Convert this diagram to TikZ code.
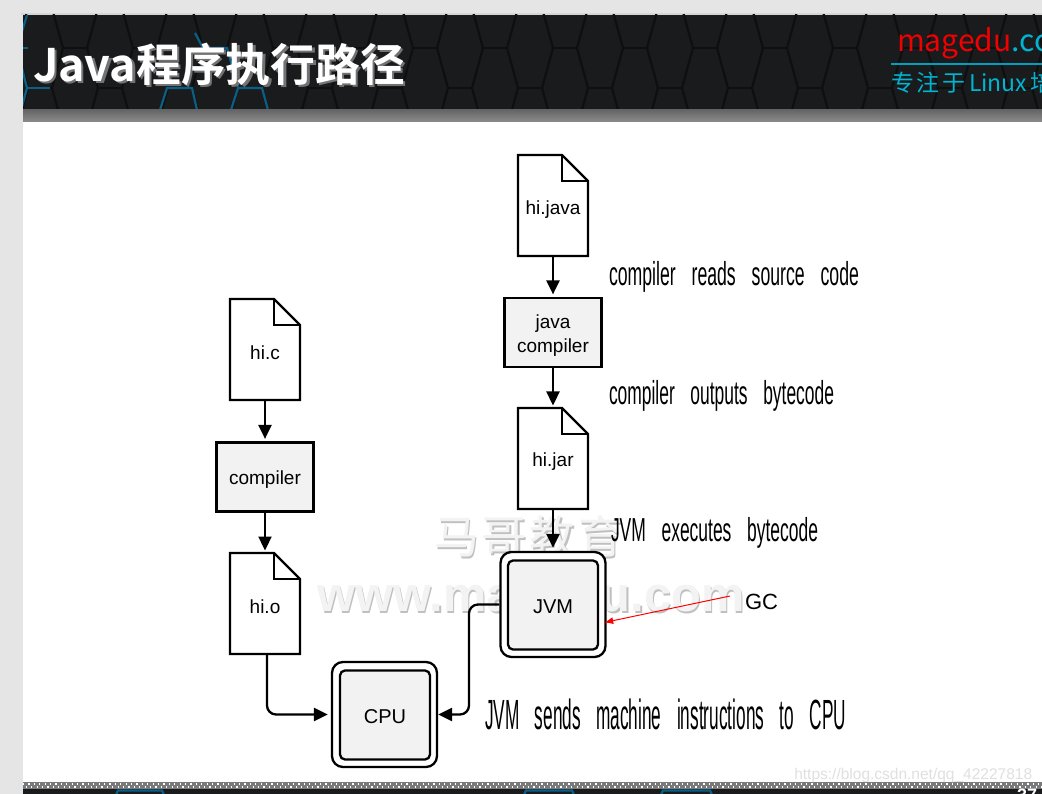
\documentclass[tikz,border=0pt]{standalone}
\usepackage{fontspec}
\usepackage{graphicx}
\setmainfont{Liberation Sans}
\newfontfamily\cjkb{Noto Sans CJK SC Bold}
\newfontfamily\cjk{Noto Sans CJK SC}
\newfontfamily\hand{Liberation Sans}
\usetikzlibrary{arrows.meta}
\definecolor{hdr}{HTML}{1A1B1D}
\definecolor{hexd}{HTML}{0F0F10}
\definecolor{hexb}{HTML}{0B5F85}
\definecolor{boxf}{HTML}{F2F2F2}
\definecolor{wmf}{HTML}{F3F3F3}
\definecolor{wms}{HTML}{C0C0C0}
\newcommand{\fs}[1]{\fontsize{#1}{#1}\selectfont}
\newcommand{\lowered}[2]{\raisebox{-#1}[\height][\depth]{#2}}
\newcommand{\docshape}[1]{%
  \draw[outl,fill=white] (#1.north west) -- ([xshift=-26pt]#1.north east) -- ([yshift=-26pt]#1.north east) -- (#1.south east) -- (#1.south west) -- cycle;
  \draw[outl] ([xshift=-26pt]#1.north east) -- ([xshift=-26pt,yshift=-26pt]#1.north east) -- ([yshift=-26pt]#1.north east);}
\newcommand{\hw}[2]{\resizebox*{#1}{31pt}{\hand #2}}
\tikzset{
  outl/.style={draw=black,line width=2.3pt,line join=miter},
  docbox/.style={minimum width=70pt,minimum height=101pt,inner sep=0pt,outer sep=0pt},
  doclabel/.style={inner sep=0pt,outer sep=0pt,font=\fs{19}},
  procbox/.style={draw=black,line width=2.2pt,fill=boxf,minimum width=97pt,minimum height=69pt,inner sep=0pt,align=center,font=\fs{19}},
  chipouter/.style={draw=black,line width=2.3pt,fill=white,rounded corners=11pt,minimum width=105pt,minimum height=105pt,inner sep=0pt},
  chipinner/.style={draw=black,line width=2.3pt,fill=boxf,rounded corners=5pt,minimum width=90pt,minimum height=89pt,inner sep=0pt,font=\fs{20}},
  flow/.style={draw=black,line width=2.3pt,rounded corners=9pt,-{Triangle[length=14pt,width=13pt]}},
  note/.style={anchor=west,inner sep=0pt,outer sep=0pt},
  hexdark/.style={draw=hexd,line width=2.2pt},
  hexblue/.style={draw=hexb,line width=2.2pt},
  wm/.style={inner sep=0pt,outer sep=0pt},
}
\begin{document}
\begin{tikzpicture}[x=1pt,y=-1pt]
\useasboundingbox (0,0) rectangle (1042,794);
\fill[white] (0,0) rectangle (1042,794);
% slide surround
\fill[black!10] (0,0) rectangle (1042,14);
\fill[black!10] (0,0) rectangle (23,794);
\fill[black!16] (21,13) rectangle (1042,15);
% header
\begin{scope}
\clip (23,15) rectangle (1042,110);
\fill[hdr] (23,15) rectangle (1042,110);
\foreach \k in {-3,...,12}{
  \pgfmathsetmacro{\xa}{203+70*\k}
  \pgfmathsetmacro{\xb}{227+70*\k}
  \pgfmathsetmacro{\xc}{238+70*\k}
  \pgfmathsetmacro{\xd}{262+70*\k}
  \draw[hexdark] (\xa,48) -- (\xb,48);
  \draw[hexdark] (\xc,88) -- (\xd,88);
  \draw[hexdark] (\xb,48) -- (\xc,88);
  \draw[hexdark] (\xb,48) -- (\xc,8);
  \draw[hexdark] (\xd,88) -- (\xa+70,48);
  \draw[hexdark] (\xd,88) -- (\xa+70,128);
  \draw[hexdark] (\xc,88) -- (\xb,128);
  \draw[hexdark] (\xd,8) -- (\xa+70,48);
}
\draw[hexblue] (27,15) -- (17,48) -- (27,88) -- (21,110);
\draw[hexblue] (17,48) -- (28,48) ;
\draw[hexblue] (27,88) -- (50,88);
\draw[hexblue] (195,33) -- (203,48) -- (227,48) -- (238,88) -- (262,88) -- (268,110);
\draw[hexblue] (238,88) -- (231,110);
\draw[hexblue] (160,110) -- (167,88) -- (192,88) -- (197,110);
\end{scope}
% header bar
\shade[top color=black!60,bottom color=black!45] (23,110) rectangle (1042,122);
% title
\node[wm,anchor=west,text=black!55] (titleshadow) at (35.5,66.5) {\fs{44.8}\cjkb Java程序执行路径};
\node[wm,anchor=west,text=white] (title) at (33,64) {\fs{44.8}\cjkb Java程序执行路径};
% brand
\begin{scope}
\clip (23,15) rectangle (1042,110);
\node[wm,anchor=west] (brand) at (897,43) {\fs{30}\cjk\textcolor[HTML]{F00000}{magedu}\textcolor[HTML]{00B4D2}{.com}};
\node[wm,anchor=west,text={rgb,255:red,0;green,180;blue,210}] (slogan) at (891,83) {\fs{23}\cjk 专\hspace{3pt}注\hspace{3pt}于\hspace{3pt}Linux\hspace{3pt}培训};
\end{scope}
\draw[draw={rgb,255:red,0;green,160;blue,190},line width=1.6pt] (891,64) -- (1042,64);
% footer
\fill[hdr] (23,789) rectangle (1042,794);
\fill[black!52] (23,782) rectangle (1042,789);
\draw[white,line width=1.2pt,dash pattern=on 1.2pt off 4.2pt] (23,784) -- (1042,784);
\draw[white,line width=1.2pt,dash pattern=on 1.2pt off 4.2pt,dash phase=2.7pt] (23,787) -- (1042,787);
\begin{scope}
\clip (23,789) rectangle (1042,794);
\draw[hexblue] (115,797) -- (118,790.5) -- (162,790.5) -- (165,797);
\draw[hexblue] (523,797) -- (526,790.5) -- (572,790.5) -- (575,797);
\draw[hexblue] (660,797) -- (663,790.5) -- (710,790.5) -- (713,797);
\end{scope}
\node[wm,anchor=west,text=white] (pagenum) at (1017,795) {\fs{18}\bfseries 37};
\node[wm,anchor=west,text=black!12] (csdn) at (790,775) {\fs{15.5} https://blog.csdn.net/qq\_42227818};
% watermark
\node[wm,anchor=center,text=wms] (wm1s) at (530,538) {\fs{45}\cjk 马\hspace{3pt}哥\hspace{3pt}教\hspace{3pt}育};
\node[wm,anchor=center,text=wmf] (wm1) at (528.5,536.5) {\fs{45}\cjk 马\hspace{3pt}哥\hspace{3pt}教\hspace{3pt}育};
\node[wm,anchor=center,text=wms] (wm2s) at (532.5,600.5) {\resizebox{427pt}{!}{\bfseries www.magedu.com}};
\node[wm,anchor=center,text=wmf] (wm2) at (531,599) {\resizebox{427pt}{!}{\bfseries www.magedu.com}};
% java column
\node[docbox] (hijava) at (553,205.5) {};
\docshape{hijava}
\node[doclabel] (hijavat) at (553,210) {hi.java};
\node[procbox] (javac) at (553,332.5) {\lowered{3pt}{java}\\[5pt]\lowered{3pt}{compiler}};
\node[docbox] (hijar) at (553,458.5) {};
\docshape{hijar}
\node[doclabel] (hijart) at (553,462) {hi.jar};
\node[chipouter] (jvmo) at (553,604.5) {};
\node[chipinner] (jvm) at (553,605) {\lowered{2pt}{JVM}};
% c column
\node[docbox] (hic) at (265,349.5) {};
\docshape{hic}
\node[doclabel] (hict) at (265,353) {hi.c};
\node[procbox] (cc) at (265,477) {\lowered{3pt}{compiler}};
\node[docbox] (hio) at (265,603.5) {};
\docshape{hio}
\node[doclabel] (hiot) at (265,606.5) {hi.o};
\node[chipouter] (cpuo) at (384.5,714.5) {};
\node[chipinner] (cpu) at (385,715) {\lowered{2pt}{CPU}};
% connectors
\draw[flow,shorten >=2.5pt] (hijava.south) -- (javac.north);
\draw[flow,shorten >=2.5pt] (javac.south) -- (hijar.north);
\draw[flow,shorten >=3pt] (hijar.south) -- (jvmo.north);
\draw[flow,shorten >=2.5pt] (hic.south) -- (cc.north);
\draw[flow,shorten >=2.5pt] (cc.south) -- (hio.north);
\draw[flow,shorten >=3pt] ([xshift=2pt]hio.south) |- (cpuo.west);
\draw[flow] (jvmo.west) -| (469,714.5) -- (cpuo.east);
% notes
\node[note] (n1) at (609,276.5) {\hw{250pt}{compiler\hspace{.9em}reads\hspace{.9em}source\hspace{.9em}code}};
\node[note] (n2) at (609,395.5) {\hw{225pt}{compiler\hspace{.9em}outputs\hspace{.9em}bytecode}};
\node[note] (n3) at (611,533) {\hw{207pt}{JVM\hspace{.9em}executes\hspace{.9em}bytecode}};
\node[note] (n4) at (485,714) {\hw{361pt}{JVM\hspace{.9em}sends\hspace{.9em}machine\hspace{.9em}instructions\hspace{.9em}to\hspace{.9em}CPU}};
% GC
\node[wm,anchor=west,font=\fs{22}] (gc) at (745,602) {GC};
\coordinate (gcfrom) at (730,596);
\draw[red,line width=1pt,shorten >=-2.5pt,-{Latex[length=9pt,width=7pt]}] (gcfrom) -- (jvmo.east |- 0,622);
\end{tikzpicture}
\end{document}
